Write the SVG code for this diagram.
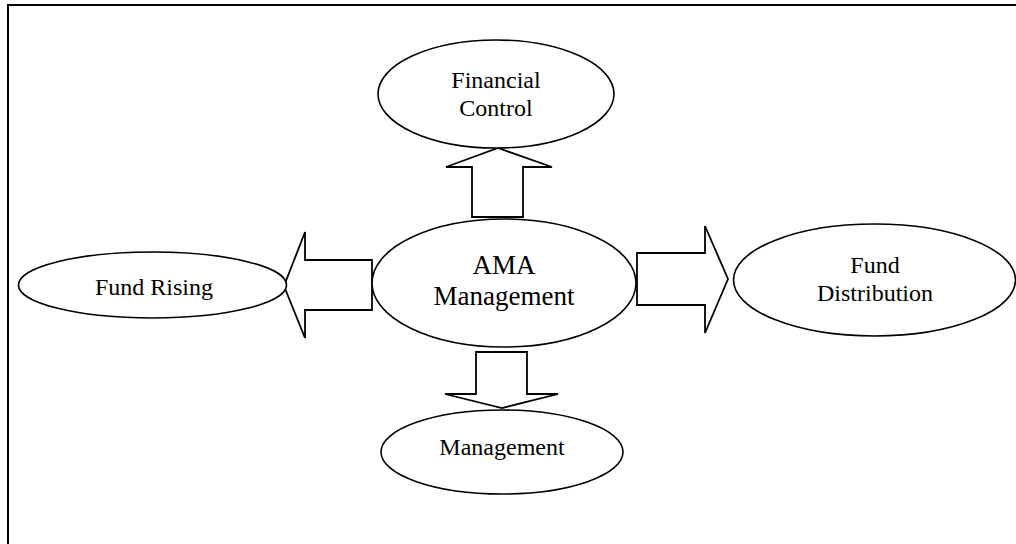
<svg xmlns="http://www.w3.org/2000/svg" width="1016" height="544" viewBox="0 0 1016 544">
<style>
.node{fill:#fff;stroke:#000;stroke-width:1.6}
.arr{fill:#fff;stroke:#000;stroke-width:1.8;stroke-linejoin:miter}
.t{font-family:"Liberation Serif","Times New Roman",serif;font-size:24px;fill:#000;text-anchor:middle}
.tb{font-size:27px}
</style>
<rect width="1016" height="544" fill="#fff"/>
<path d="M8,545 V5 H1017" fill="none" stroke="#000" stroke-width="2"/>
<g id="connectors">
<polygon class="arr" points="472,217 472,167 446,167 498,148 552,167 523,167 523,217"/>
<polygon class="arr" points="372,260 305,260 305,232 284,286 305,338 305,310 372,310"/>
<polygon class="arr" points="637,253 705,253 705,226 728,279 705,333 705,305 637,305"/>
<polygon class="arr" points="476,352 527,352 527,394 558,394 502,408 445,394 476,394"/>
</g>
<g id="financial-control">
<ellipse class="node" cx="496" cy="94" rx="118" ry="54"/>
<text class="t" x="496" y="88">Financial</text>
<text class="t" x="496" y="116">Control</text>
</g>
<g id="ama-management">
<ellipse class="node" cx="504" cy="283" rx="132" ry="64"/>
<text class="t tb" x="504" y="274">AMA</text>
<text class="t tb" x="504" y="305">Management</text>
</g>
<g id="fund-rising">
<ellipse class="node" cx="152.5" cy="285" rx="134" ry="33"/>
<text class="t" x="154" y="295">Fund Rising</text>
</g>
<g id="fund-distribution">
<ellipse class="node" cx="874.5" cy="280" rx="141" ry="56"/>
<text class="t" x="875" y="273">Fund</text>
<text class="t" x="875" y="301">Distribution</text>
</g>
<g id="management">
<ellipse class="node" cx="502" cy="452" rx="121" ry="42"/>
<text class="t" x="502" y="455">Management</text>
</g>
</svg>
